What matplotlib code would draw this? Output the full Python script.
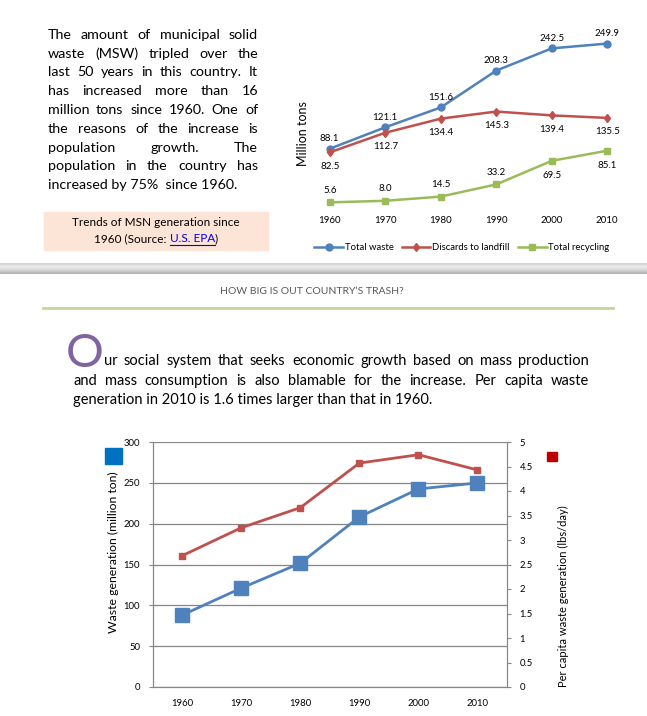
import numpy as np
import matplotlib.pyplot as plt
from matplotlib.transforms import IdentityTransform
from matplotlib.patches import Rectangle
from matplotlib.lines import Line2D
from matplotlib.colors import LinearSegmentedColormap

W, H = 647, 716
FONT = 'Lato'

# data (U.S. EPA MSW trends)
years = ['1960', '1970', '1980', '1990', '2000', '2010']
total_waste = [88.1, 121.1, 151.6, 208.3, 242.5, 249.9]
landfill = [82.5, 112.7, 134.4, 145.3, 139.4, 135.5]
recycling = [5.6, 8.0, 14.5, 33.2, 69.5, 85.1]
per_capita = [2.68, 3.25, 3.66, 4.57, 4.74, 4.43]

intro_lines = [
    "The amount of municipal solid",
    "waste (MSW) tripled over the",
    "last 50 years in this country.  It",
    "has increased more than 16",
    "million tons since 1960. One of",
    "the reasons of the increase is",
    "population growth. The",
    "population in the country has",
    "increased by 75%  since 1960.",
]
body_lines = [
    "ur social system that seeks economic growth based on mass production",
    "and mass consumption is also blamable for the increase.  Per capita waste",
    "generation in 2010 is 1.6 times larger than that in 1960.",
]
title = "HOW BIG IS OUT COUNTRY\u2019S TRASH?"

plt.rcParams['font.family'] = [FONT, 'DejaVu Sans']
fig = plt.figure(figsize=(W / 100, H / 100), dpi=100)
fig.patch.set_facecolor('white')
renderer = fig.canvas.get_renderer()
ident = IdentityTransform()


def box(x0, y0, x1, y1):
    # pixel box (top-left origin) -> figure fraction rect
    return [x0 / W, 1 - y1 / H, (x1 - x0) / W, (y1 - y0) / H]


def text_px(x, y, s, **kw):
    return fig.text(x, H - y, s, transform=ident, **kw)


def width_of(s, size):
    t = text_px(0, 0, s, fontsize=size)
    w = t.get_window_extent(renderer).width
    t.remove()
    return w


def put_line(line, x0, y, size, x1=None, color='black'):
    if x1 is None:
        # last line of a paragraph: no justification
        text_px(x0, y, line, fontsize=size, color=color, va='center', ha='left')
        return
    words = line.split()
    ws = [width_of(w, size) for w in words]
    gap = max((x1 - x0 - sum(ws)) / (len(words) - 1), 1)
    xx = x0
    for w, wd in zip(words, ws):
        text_px(xx, y, w, fontsize=size, color=color, va='center', ha='left')
        xx += wd + gap


# ---- intro paragraph (justified)
for i, line in enumerate(intro_lines):
    last = i == len(intro_lines) - 1
    put_line(line, 48, 35 + i * 18.75, 10.3, None if last else 258)

# caption box
fig.patches.append(Rectangle((44 / W, 1 - 250 / H), 224 / W, 38 / H,
                             transform=fig.transFigure, color='#FCE4D6', zorder=0))
text_px(156, 222, "Trends of MSN generation since", fontsize=8.5, ha='center', va='center')
parts = [("1960 (Source: ", 'black'), ("U.S. EPA", '#0000EE'), (")", 'black')]
pw = [width_of(p, 8.5) for p, _ in parts]
xx = 156 - sum(pw) / 2
for (p, c), w in zip(parts, pw):
    text_px(xx, 239, p, fontsize=8.5, color=c, ha='left', va='center')
    if c != 'black':
        fig.lines.append(Line2D([xx, xx + w], [H - 245, H - 245], transform=ident,
                                color=c, lw=0.8))
    xx += w

# ---- top chart
x = np.arange(len(years))
ax = fig.add_axes(box(302, 11, 635, 206))
ax.plot(x, total_waste, color='#4F81BD', lw=1.8, marker='o', ms=5, label='Total waste')
ax.plot(x, landfill, color='#C0504D', lw=1.8, marker='d', ms=4.5, label='Discards to landfill')
ax.plot(x, recycling, color='#9BBB59', lw=1.8, marker='s', ms=5, label='Total recycling')
for xi, v in zip(x, total_waste):
    ax.annotate(f'{v:.1f}', (xi, v), xytext=(0, 10), textcoords='offset pixels',
                ha='center', va='center', fontsize=7)
for xi, v in zip(x, landfill):
    ax.annotate(f'{v:.1f}', (xi, v), xytext=(0, -14), textcoords='offset pixels',
                ha='center', va='center', fontsize=7)
for xi, v in zip(x, recycling):
    dy = -15 if xi >= 4 else 12
    ax.annotate(f'{v:.1f}', (xi, v), xytext=(0, dy), textcoords='offset pixels',
                ha='center', va='center', fontsize=7)
ax.set_xlim(-0.5, 5.5)
ax.set_ylim(0, 300)
ax.set_xticks(x, years)
ax.set_yticks([])
ax.tick_params(axis='x', length=0, labelsize=7, pad=7)
for s in ax.spines.values():
    s.set_visible(False)
ax.set_facecolor('none')
ax.set_ylabel('Million tons', fontsize=9)
ax.yaxis.set_label_coords(0.021, 0.37)
fig.legend(loc='center', bbox_to_anchor=(462 / W, 1 - 248 / H), ncol=3, frameon=False,
           fontsize=6.8, handlelength=3, columnspacing=0.9, handletextpad=0.2)

# ---- separator bar
axb = fig.add_axes(box(0, 263, 647, 274))
grad = np.linspace(0, 1, 20).reshape(-1, 1)
axb.imshow(grad, aspect='auto', extent=(0, 1, 0, 1),
           cmap=LinearSegmentedColormap.from_list(
               'g', ['#D0D0D0', '#EDEDED', '#D5D5D5', '#B0B0B0']))
axb.axis('off')

text_px(312, 292, title, fontsize=7.5, color='#595959', ha='center', va='center')
fig.lines.append(Line2D([43, 613], [H - 308, H - 308], transform=ident,
                        color='#C3D69B', lw=2))

# ---- body paragraph with drop cap
text_px(66, 367, 'O', fontsize=34, color='#8064A2', ha='left', va='baseline')
put_line(body_lines[0], 104, 361, 10.5, 589)
put_line(body_lines[1], 73, 381, 10.5, 589)
put_line(body_lines[2], 73, 400, 10.5)

# ---- bottom chart
axl = fig.add_axes(box(152.7, 442, 507, 687))
axr = axl.twinx()
axl.plot(x, total_waste, color='#4F81BD', lw=2, marker='s', ms=10, zorder=3)
axr.plot(x, per_capita, color='#C0504D', lw=2, marker='s', ms=5, zorder=3)
axl.set_xlim(-0.5, 5.5)
axl.set_ylim(0, 300)
axr.set_ylim(0, 5)
axl.set_yticks(np.arange(0, 301, 50))
rt = np.arange(0, 5.01, 0.5)
axr.set_yticks(rt, [f'{v:g}' for v in rt])
axl.set_xticks(x, years)
axl.grid(axis='y', color='#868686', lw=0.9)
axl.set_axisbelow(True)
axl.tick_params(axis='x', length=0, labelsize=6.8, pad=9)
axl.tick_params(axis='y', length=3, color='#868686', labelsize=6.8, pad=6)
axr.tick_params(axis='y', length=3, color='#868686', labelsize=6.8, pad=6)
for a in (axl, axr):
    for s in a.spines.values():
        s.set_color('#868686')
    a.spines['top'].set_visible(False)
axl.set_ylabel('Waste generation (million ton)', fontsize=8.8)
axl.yaxis.set_label_coords(-0.095, 0.55)
axr.set_ylabel('Per capita waste generation (lbs/day)', fontsize=8.0)
axr.yaxis.set_label_coords(1.145, 0.37)

# legend keys
fig.patches.append(Rectangle((105 / W, 1 - 464 / H), 17 / W, 16 / H,
                             transform=fig.transFigure, color='#0070C0'))
fig.patches.append(Rectangle((547 / W, 1 - 461 / H), 10 / W, 9 / H,
                             transform=fig.transFigure, color='#C00000'))

fig.savefig('out.png', dpi=100)
